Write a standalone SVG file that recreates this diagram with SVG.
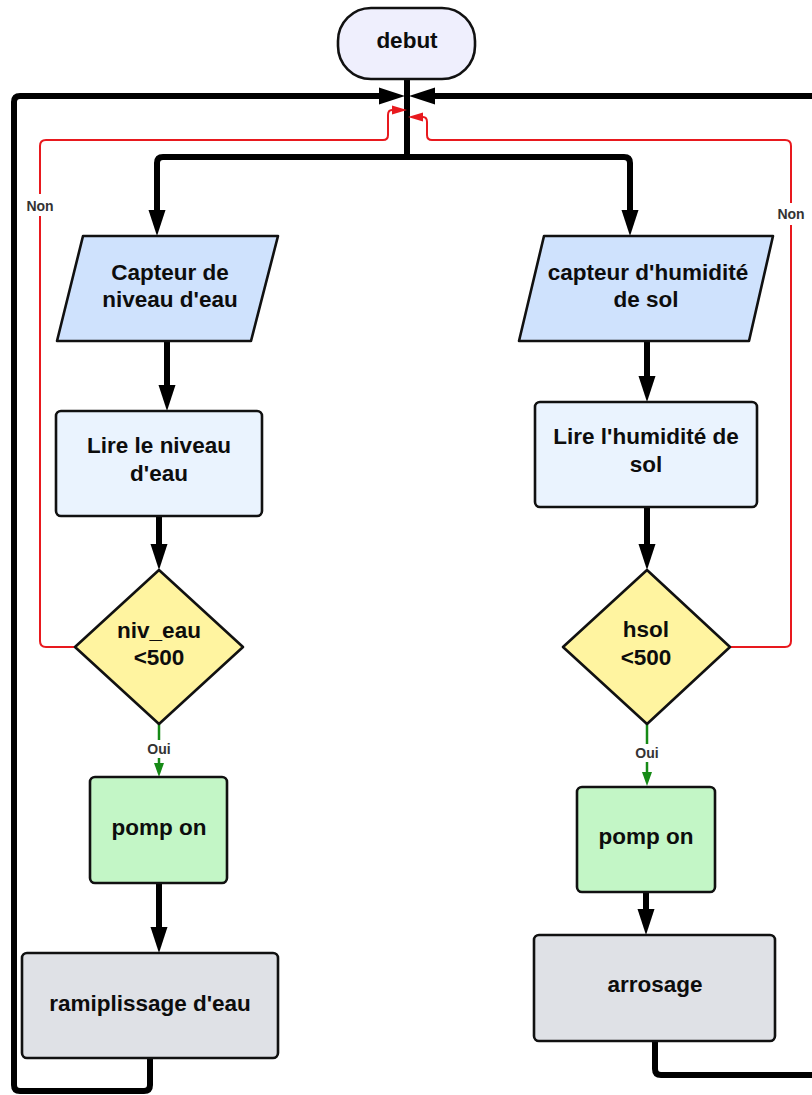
<svg xmlns="http://www.w3.org/2000/svg" width="812" height="1095" viewBox="0 0 812 1095">
  <style>
    .node { stroke: #111; stroke-width: 2.6; stroke-linejoin: round; }
    .start { fill: #efeffd; }
    .io { fill: #cfe2fd; }
    .proc { fill: #eaf3fe; }
    .dec { fill: #fff4a0; }
    .act { fill: #c3f6c6; }
    .end { fill: #dfe1e6; }
    .lbl { font-family: "Liberation Sans", Arial, sans-serif; font-weight: bold; font-size: 22.5px; fill: #0d0d0d; text-anchor: middle; }
    .elbl { font-family: "Liberation Sans", Arial, sans-serif; font-weight: bold; font-size: 14px; fill: #333; text-anchor: middle; }
    .flow { fill: none; stroke: #000; stroke-width: 6; stroke-linejoin: round; }
    .no { fill: none; stroke: #e8191e; stroke-width: 2; }
    .yes { fill: none; stroke: #168a16; stroke-width: 2.5; }
  </style>
  <defs>
    <marker id="head" markerUnits="userSpaceOnUse" markerWidth="26" markerHeight="17" refX="0" refY="8.5" orient="auto" overflow="visible">
      <path d="M0,0 L26,8.5 L0,17 z" fill="#000"/>
    </marker>
    <marker id="headRed" markerUnits="userSpaceOnUse" markerWidth="15" markerHeight="9" refX="0" refY="4.5" orient="auto" overflow="visible">
      <path d="M0,0 L15,4.5 L0,9 z" fill="#e8191e"/>
    </marker>
    <marker id="headGreen" markerUnits="userSpaceOnUse" markerWidth="14" markerHeight="10" refX="0" refY="5" orient="auto" overflow="visible">
      <path d="M0,0 L14,5 L0,10 z" fill="#168a16"/>
    </marker>
  </defs>

  <g id="connectors">
    <!-- main split from start -->
    <path class="flow" d="M407,79 V157 H163 Q157,157 157,163 V210" marker-end="url(#head)"/>
    <path class="flow" d="M407,157 H624 Q630,157 630,163 V210" marker-end="url(#head)"/>
    <!-- left column -->
    <path class="flow" d="M167,341 V385" marker-end="url(#head)"/>
    <path class="flow" d="M159,516 V544" marker-end="url(#head)"/>
    <path class="flow" d="M159,883 V927" marker-end="url(#head)"/>
    <!-- right column -->
    <path class="flow" d="M647,341 V376" marker-end="url(#head)"/>
    <path class="flow" d="M647,507 V544" marker-end="url(#head)"/>
    <path class="flow" d="M646,892 V909" marker-end="url(#head)"/>
    <!-- return loops -->
    <path class="flow" d="M150,1058 V1085 Q150,1091 144,1091 H20 Q14,1091 14,1085 V102 Q14,96 20,96 H379" marker-end="url(#head)"/>
    <path class="flow" d="M655,1041 V1069 Q655,1075 661,1075 H820"/>
    <path class="flow" d="M820,96 H435" marker-end="url(#head)"/>
    <!-- "Non" branches -->
    <path class="no" d="M75,647 H46 Q40,647 40,641 V146 Q40,140 46,140 H383 Q388,140 388,135 V115 Q388,110 392,110" marker-end="url(#headRed)"/>
    <path class="no" d="M730,647 H785 Q791,647 791,641 V146 Q791,140 785,140 H432 Q427,140 427,135 V122 Q427,117 423,117" marker-end="url(#headRed)"/>
    <rect x="24" y="194" width="32" height="22" fill="#fff"/>
    <text class="elbl" x="40" y="211">Non</text>
    <rect x="775" y="203" width="32" height="22" fill="#fff"/>
    <text class="elbl" x="791" y="219">Non</text>
    <!-- "Oui" branches -->
    <path class="yes" d="M159,724 V763" marker-end="url(#headGreen)"/>
    <path class="yes" d="M647,724 V772" marker-end="url(#headGreen)"/>
    <rect x="144" y="740" width="30" height="18" fill="#fff"/>
    <text class="elbl" x="159" y="754">Oui</text>
    <rect x="632" y="744" width="30" height="18" fill="#fff"/>
    <text class="elbl" x="647" y="758">Oui</text>
  </g>

  <g id="debut">
    <rect class="node start" x="338" y="8" width="137" height="71" rx="33"/>
    <text class="lbl" x="407" y="48">debut</text>
  </g>

  <g id="capteur-niveau">
    <path class="node io" d="M83,236 H278 L251,341 H57 Z"/>
    <text class="lbl" x="170" y="280">Capteur de</text>
    <text class="lbl" x="170" y="307">niveau d'eau</text>
  </g>

  <g id="capteur-humidite">
    <path class="node io" d="M544,236 H773 L749,341 H519 Z"/>
    <text class="lbl" x="648" y="280">capteur d'humidité</text>
    <text class="lbl" x="646" y="307">de sol</text>
  </g>

  <g id="lire-niveau">
    <rect class="node proc" x="56" y="411" width="206" height="105" rx="5"/>
    <text class="lbl" x="159" y="453">Lire le niveau</text>
    <text class="lbl" x="159" y="481">d'eau</text>
  </g>

  <g id="lire-humidite">
    <rect class="node proc" x="535" y="402" width="222" height="105" rx="5"/>
    <text class="lbl" x="646" y="444">Lire l'humidité de</text>
    <text class="lbl" x="646" y="472">sol</text>
  </g>

  <g id="test-niveau">
    <path class="node dec" d="M159,570 L243,647 L159,724 L75,647 Z"/>
    <text class="lbl" x="159" y="638">niv_eau</text>
    <text class="lbl" x="159" y="665">&lt;500</text>
  </g>

  <g id="test-humidite">
    <path class="node dec" d="M647,570 L730,647 L647,724 L563,647 Z"/>
    <text class="lbl" x="646" y="637">hsol</text>
    <text class="lbl" x="646" y="665">&lt;500</text>
  </g>

  <g id="pompe-niveau">
    <rect class="node act" x="90" y="777" width="137" height="106" rx="5"/>
    <text class="lbl" x="159" y="835">pomp on</text>
  </g>

  <g id="pompe-humidite">
    <rect class="node act" x="577" y="787" width="138" height="105" rx="5"/>
    <text class="lbl" x="646" y="844">pomp on</text>
  </g>

  <g id="remplissage">
    <rect class="node end" x="22" y="953" width="256" height="105" rx="5"/>
    <text class="lbl" x="150" y="1011">ramiplissage d'eau</text>
  </g>

  <g id="arrosage">
    <rect class="node end" x="534" y="935" width="241" height="106" rx="5"/>
    <text class="lbl" x="655" y="992">arrosage</text>
  </g>
</svg>
